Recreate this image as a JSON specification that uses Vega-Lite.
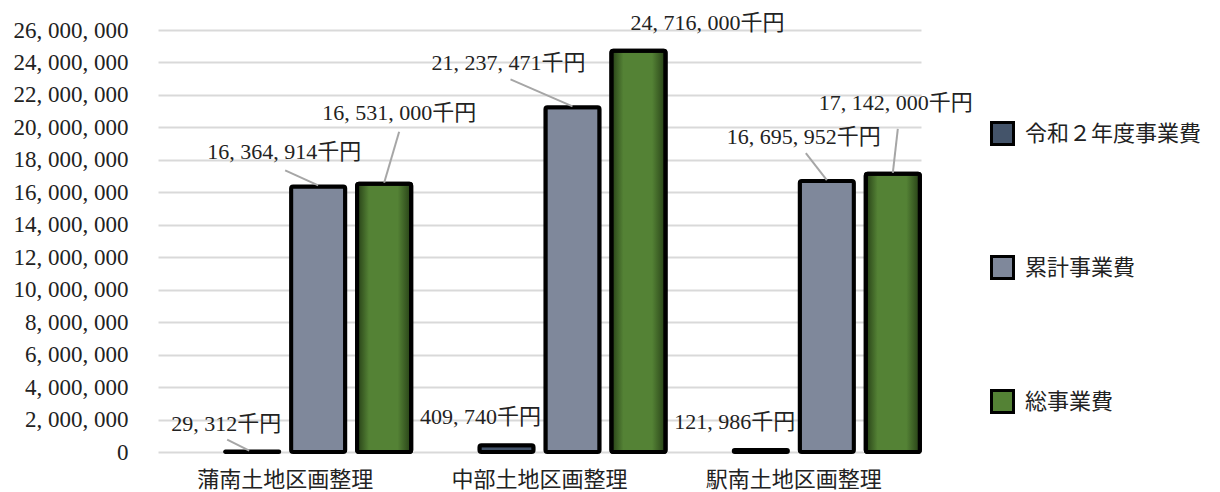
{
  "$schema": "https://vega.github.io/schema/vega-lite/v6.json",
  "width": 763,
  "height": 422,
  "autosize": "none",
  "padding": {"left": 158, "top": 30, "right": 299, "bottom": 40},
  "background": "white",
  "config": {
    "view": {"stroke": null},
    "font": "Liberation Serif, Noto Sans CJK JP"
  },
  "data": {
    "values": [
      {"g": "蒲南土地区画整理", "s": "令和２年度事業費", "v": 29312},
      {"g": "蒲南土地区画整理", "s": "累計事業費", "v": 16364914},
      {"g": "蒲南土地区画整理", "s": "総事業費", "v": 16531000},
      {"g": "中部土地区画整理", "s": "令和２年度事業費", "v": 409740},
      {"g": "中部土地区画整理", "s": "累計事業費", "v": 21237471},
      {"g": "中部土地区画整理", "s": "総事業費", "v": 24716000},
      {"g": "駅南土地区画整理", "s": "令和２年度事業費", "v": 121986},
      {"g": "駅南土地区画整理", "s": "累計事業費", "v": 16695952},
      {"g": "駅南土地区画整理", "s": "総事業費", "v": 17142000}
    ]
  },
  "layer": [
    {
      "mark": {"type": "bar", "stroke": "#000000", "strokeWidth": 4, "cornerRadius": 2},
      "encoding": {
        "x": {
          "field": "g", "type": "nominal", "sort": null,
          "scale": {"paddingInner": 0, "paddingOuter": 0},
          "axis": {
            "title": null, "domain": false, "ticks": false, "labelAngle": 0,
            "labelFont": "Noto Sans CJK JP", "labelFontSize": 22, "labelColor": "#222222",
            "labelPadding": 17
          }
        },
        "xOffset": {
          "field": "s", "type": "nominal",
          "scale": {"domain": ["_", "令和２年度事業費", "累計事業費", "総事業費"], "paddingInner": 0.18, "paddingOuter": 0.017}
        },
        "y": {
          "field": "v", "type": "quantitative",
          "scale": {"domain": [0, 26000000], "nice": false},
          "axis": {
            "title": null, "domain": false, "ticks": false,
            "values": [0, 2000000, 4000000, 6000000, 8000000, 10000000, 12000000, 14000000, 16000000, 18000000, 20000000, 22000000, 24000000, 26000000],
            "labelExpr": "replace(format(datum.value, ','), regexp(',', 'g'), ', ')",
            "labelFont": "Liberation Serif", "labelFontSize": 23, "labelColor": "#222222",
            "labelPadding": 30,
            "gridColor": "#d9d9d9", "gridWidth": 2
          }
        },
        "color": {
          "field": "s", "type": "nominal",
          "scale": {
            "domain": ["令和２年度事業費", "累計事業費", "総事業費"],
            "range": ["#44546a", "#7f889b", "#548235"]
          },
          "legend": {
            "title": null, "orient": "none", "legendX": 832, "legendY": 91,
            "symbolType": "square", "symbolSize": 484, "symbolStrokeColor": "#000000", "symbolStrokeWidth": 3,
            "symbolOpacity": 1,
            "labelFont": "Noto Sans CJK JP", "labelFontSize": 22, "labelColor": "#222222",
            "labelOffset": 10, "rowPadding": 99, "labelLimit": 300
          }
        }
      }
    },
    {
      "transform": [{"filter": "datum.s == '総事業費'"}],
      "mark": {
        "type": "bar", "stroke": "#000000", "strokeWidth": 4, "cornerRadius": 2,
        "fill": {"gradient": "linear", "x1": 0, "y1": 0, "x2": 1, "y2": 0,
          "stops": [
            {"offset": 0, "color": "#263f16"},
            {"offset": 0.22, "color": "#548235"},
            {"offset": 0.75, "color": "#548235"},
            {"offset": 1, "color": "#263f16"}
          ]}
      },
      "encoding": {
        "x": {
          "field": "g", "type": "nominal", "sort": null,
          "scale": {"paddingInner": 0, "paddingOuter": 0},
          "axis": {
            "title": null, "domain": false, "ticks": false, "labelAngle": 0,
            "labelFont": "Noto Sans CJK JP", "labelFontSize": 22, "labelColor": "#222222",
            "labelPadding": 17
          }
        },
        "xOffset": {
          "field": "s", "type": "nominal",
          "scale": {"domain": ["_", "令和２年度事業費", "累計事業費", "総事業費"], "paddingInner": 0.18, "paddingOuter": 0.017}
        },
        "y": {
          "field": "v", "type": "quantitative",
          "scale": {"domain": [0, 26000000], "nice": false},
          "axis": {
            "title": null, "domain": false, "ticks": false,
            "values": [0, 2000000, 4000000, 6000000, 8000000, 10000000, 12000000, 14000000, 16000000, 18000000, 20000000, 22000000, 24000000, 26000000],
            "labelExpr": "replace(format(datum.value, ','), regexp(',', 'g'), ', ')",
            "labelFont": "Liberation Serif", "labelFontSize": 23, "labelColor": "#222222",
            "labelPadding": 30,
            "gridColor": "#d9d9d9", "gridWidth": 2
          }
        }
      }
    },
    {
      "transform": [
        {"filter": "!(datum.s == '令和２年度事業費' && datum.g != '蒲南土地区画整理') && !(datum.s == '総事業費' && datum.g == '中部土地区画整理')"}
      ],
      "mark": {"type": "rule", "color": "#a6a6a6", "strokeWidth": 2},
      "encoding": {
        "x": {"value": {"expr": "scale('x', datum.g) + scale('xOffset', datum.s) + bandwidth('xOffset') / 2 + (datum.s == '令和２年度事業費' ? -25 : datum.s == '累計事業費' ? (datum.g == '蒲南土地区画整理' ? -33 : datum.g == '中部土地区画整理' ? -62 : -21) : (datum.g == '蒲南土地区画整理' ? 15 : 5))"}},
        "y": {"value": {"expr": "scale('y', datum.v) + (datum.s == '令和２年度事業費' ? -12 : datum.s == '累計事業費' ? (datum.g == '蒲南土地区画整理' ? -16 : -28) : (datum.g == '蒲南土地区画整理' ? -52 : -45))"}},
        "x2": {"value": {"expr": "scale('x', datum.g) + scale('xOffset', datum.s) + bandwidth('xOffset') / 2 + (datum.s == '令和２年度事業費' ? -3 : 0)"}},
        "y2": {"value": {"expr": "scale('y', datum.v) - 1"}},
        "detail": {"field": "s"}
      }
    },
    {
      "mark": {
        "type": "text", "baseline": "middle", "align": "center", "fontSize": 22, "color": "#222222",
        "font": "Liberation Serif, Noto Sans CJK JP",
        "dx": {"expr": "datum.s == '令和２年度事業費' ? -26 : datum.s == '累計事業費' ? (datum.g == '蒲南土地区画整理' ? -34 : datum.g == '中部土地区画整理' ? -64 : -23) : (datum.g == '蒲南土地区画整理' ? 15 : datum.g == '中部土地区画整理' ? 69 : 3)"},
        "dy": {"expr": "datum.s == '令和２年度事業費' ? -28 : datum.s == '累計事業費' ? (datum.g == '蒲南土地区画整理' ? -34 : -44) : (datum.g == '中部土地区画整理' ? -28 : -71)"}
      },
      "encoding": {
        "x": {
          "field": "g", "type": "nominal", "sort": null,
          "scale": {"paddingInner": 0, "paddingOuter": 0},
          "axis": {
            "title": null, "domain": false, "ticks": false, "labelAngle": 0,
            "labelFont": "Noto Sans CJK JP", "labelFontSize": 22, "labelColor": "#222222",
            "labelPadding": 17
          }
        },
        "xOffset": {
          "field": "s", "type": "nominal",
          "scale": {"domain": ["_", "令和２年度事業費", "累計事業費", "総事業費"], "paddingInner": 0.18, "paddingOuter": 0.017}
        },
        "y": {
          "field": "v", "type": "quantitative",
          "scale": {"domain": [0, 26000000], "nice": false},
          "axis": {
            "title": null, "domain": false, "ticks": false,
            "values": [0, 2000000, 4000000, 6000000, 8000000, 10000000, 12000000, 14000000, 16000000, 18000000, 20000000, 22000000, 24000000, 26000000],
            "labelExpr": "replace(format(datum.value, ','), regexp(',', 'g'), ', ')",
            "labelFont": "Liberation Serif", "labelFontSize": 23, "labelColor": "#222222",
            "labelPadding": 30,
            "gridColor": "#d9d9d9", "gridWidth": 2
          }
        },
        "text": {"field": "lab"}
      },
      "transform": [
        {"calculate": "replace(format(datum.v, ','), regexp(',', 'g'), ', ') + '千円'", "as": "lab"}
      ]
    }
  ]
}
